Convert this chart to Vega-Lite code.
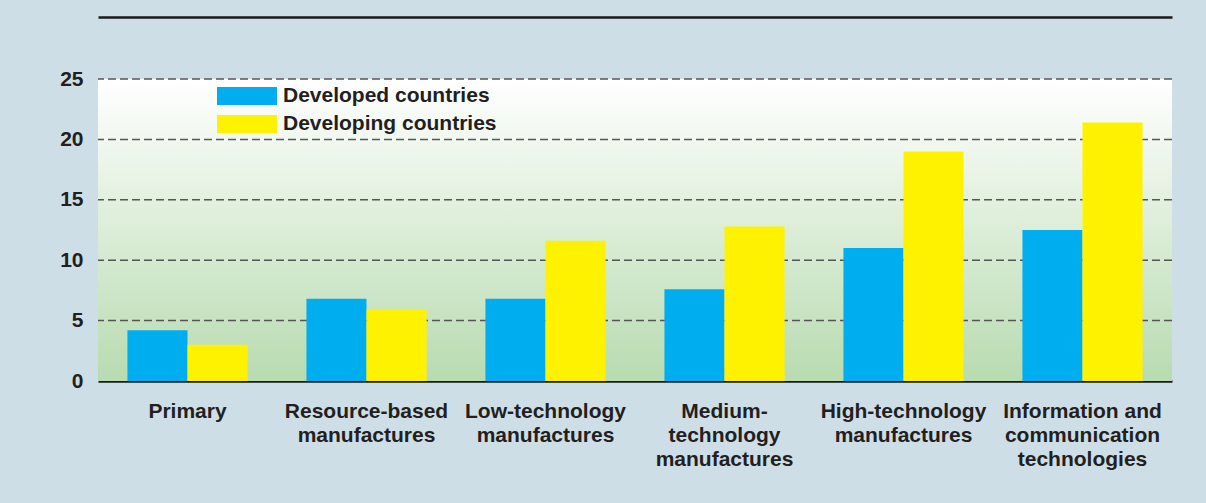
{
  "$schema": "https://vega.github.io/schema/vega-lite/v6.json",
  "width": 1074,
  "height": 302,
  "autosize": {"type": "none"},
  "padding": {"left": 98, "top": 79, "right": 34, "bottom": 122},
  "background": "#cddee6",
  "config": {"view": {"stroke": null}, "font": "Liberation Sans"},
  "layer": [
    {
      "data": {"values": [{}]},
      "mark": {
        "type": "rect",
        "fill": {
          "gradient": "linear",
          "x1": 0, "y1": 0, "x2": 0, "y2": 1,
          "stops": [
            {"offset": 0, "color": "#ffffff"},
            {"offset": 1, "color": "#b8dbb0"}
          ]
        }
      },
      "encoding": {
        "y": {
          "datum": 25,
          "type": "quantitative",
          "scale": {"domain": [0, 25], "nice": false},
          "axis": {
            "title": null,
            "values": [0, 5, 10, 15, 20, 25],
            "grid": false,
            "domain": false,
            "ticks": false,
            "tickSize": 0,
            "labelPadding": 15,
            "labelFont": "Liberation Sans",
            "labelFontSize": 21,
            "labelFontWeight": "bold",
            "labelColor": "#231f20"
          }
        },
        "y2": {"datum": 0}
      }
    },
    {
      "data": {"values": [{"g": 5}, {"g": 10}, {"g": 15}, {"g": 20}, {"g": 25}]},
      "mark": {"type": "rule", "color": "#555555", "strokeWidth": 1.5, "strokeDash": [8, 4]},
      "encoding": {
        "y": {"field": "g", "type": "quantitative"}
      }
    },
    {
      "data": {
        "values": [
          {"category": "Primary", "group": "Developed countries", "value": 4.2},
          {"category": "Primary", "group": "Developing countries", "value": 3.0},
          {"category": "Resource-based|manufactures", "group": "Developed countries", "value": 6.8},
          {"category": "Resource-based|manufactures", "group": "Developing countries", "value": 5.9},
          {"category": "Low-technology|manufactures", "group": "Developed countries", "value": 6.8},
          {"category": "Low-technology|manufactures", "group": "Developing countries", "value": 11.6},
          {"category": "Medium-|technology|manufactures", "group": "Developed countries", "value": 7.6},
          {"category": "Medium-|technology|manufactures", "group": "Developing countries", "value": 12.8},
          {"category": "High-technology|manufactures", "group": "Developed countries", "value": 11.0},
          {"category": "High-technology|manufactures", "group": "Developing countries", "value": 19.0},
          {"category": "Information and|communication|technologies", "group": "Developed countries", "value": 12.5},
          {"category": "Information and|communication|technologies", "group": "Developing countries", "value": 21.4}
        ]
      },
      "layer": [
        {
          "mark": {"type": "bar", "opacity": 0},
          "encoding": {
            "x": {
              "field": "category",
              "type": "nominal",
              "axis": {
                "orient": "top",
                "offset": 62,
                "title": null,
                "labels": false,
                "ticks": false,
                "tickSize": 0,
                "grid": false,
                "domainColor": "#1a1a1a",
                "domainWidth": 2.5
              }
            },
            "y": {"datum": 0, "type": "quantitative"}
          }
        },
        {
          "mark": {"type": "bar"},
          "encoding": {
            "x": {
              "field": "category",
              "type": "nominal",
              "sort": null,
              "scale": {
                "domain": [
                  "Primary",
                  "Resource-based|manufactures",
                  "Low-technology|manufactures",
                  "Medium-|technology|manufactures",
                  "High-technology|manufactures",
                  "Information and|communication|technologies"
                ],
                "paddingInner": 0,
                "paddingOuter": 0
              },
              "axis": {
                "orient": "bottom",
                "title": null,
                "labelExpr": "split(datum.label, '|')",
                "labelAngle": 0,
                "labelFont": "Liberation Sans",
                "labelFontSize": 21,
                "labelFontWeight": "bold",
                "labelColor": "#231f20",
                "labelLineHeight": 24,
                "labelPadding": 19,
                "labelLimit": 0,
                "labelOverlap": false,
                "labelBound": false,
                "ticks": false,
                "tickSize": 0,
                "domainColor": "#1a1a1a",
                "domainWidth": 2.5
              }
            },
            "xOffset": {
              "field": "group",
              "type": "nominal",
              "scale": {"paddingInner": 0, "paddingOuter": 0.49}
            },
            "y": {
              "field": "value",
              "type": "quantitative"
            },
            "color": {
              "field": "group",
              "type": "nominal",
              "scale": {
                "domain": ["Developed countries", "Developing countries"],
                "range": ["#00aeef", "#fff200"]
              },
              "legend": {
                "orient": "none",
                "legendX": 119,
                "legendY": 8,
                "title": null,
                "padding": 0,
                "symbolType": "M-1,-0.3H1V0.3H-1Z",
                "symbolSize": 3600,
                "symbolStrokeWidth": 0,
                "symbolOpacity": 1,
                "clipHeight": 18,
                "rowPadding": 7,
                "labelOffset": 6,
                "labelFont": "Liberation Sans",
                "labelFontSize": 21,
                "labelFontWeight": "bold",
                "labelColor": "#231f20",
                "labelLimit": 0
              }
            }
          }
        }
      ]
    }
  ]
}
